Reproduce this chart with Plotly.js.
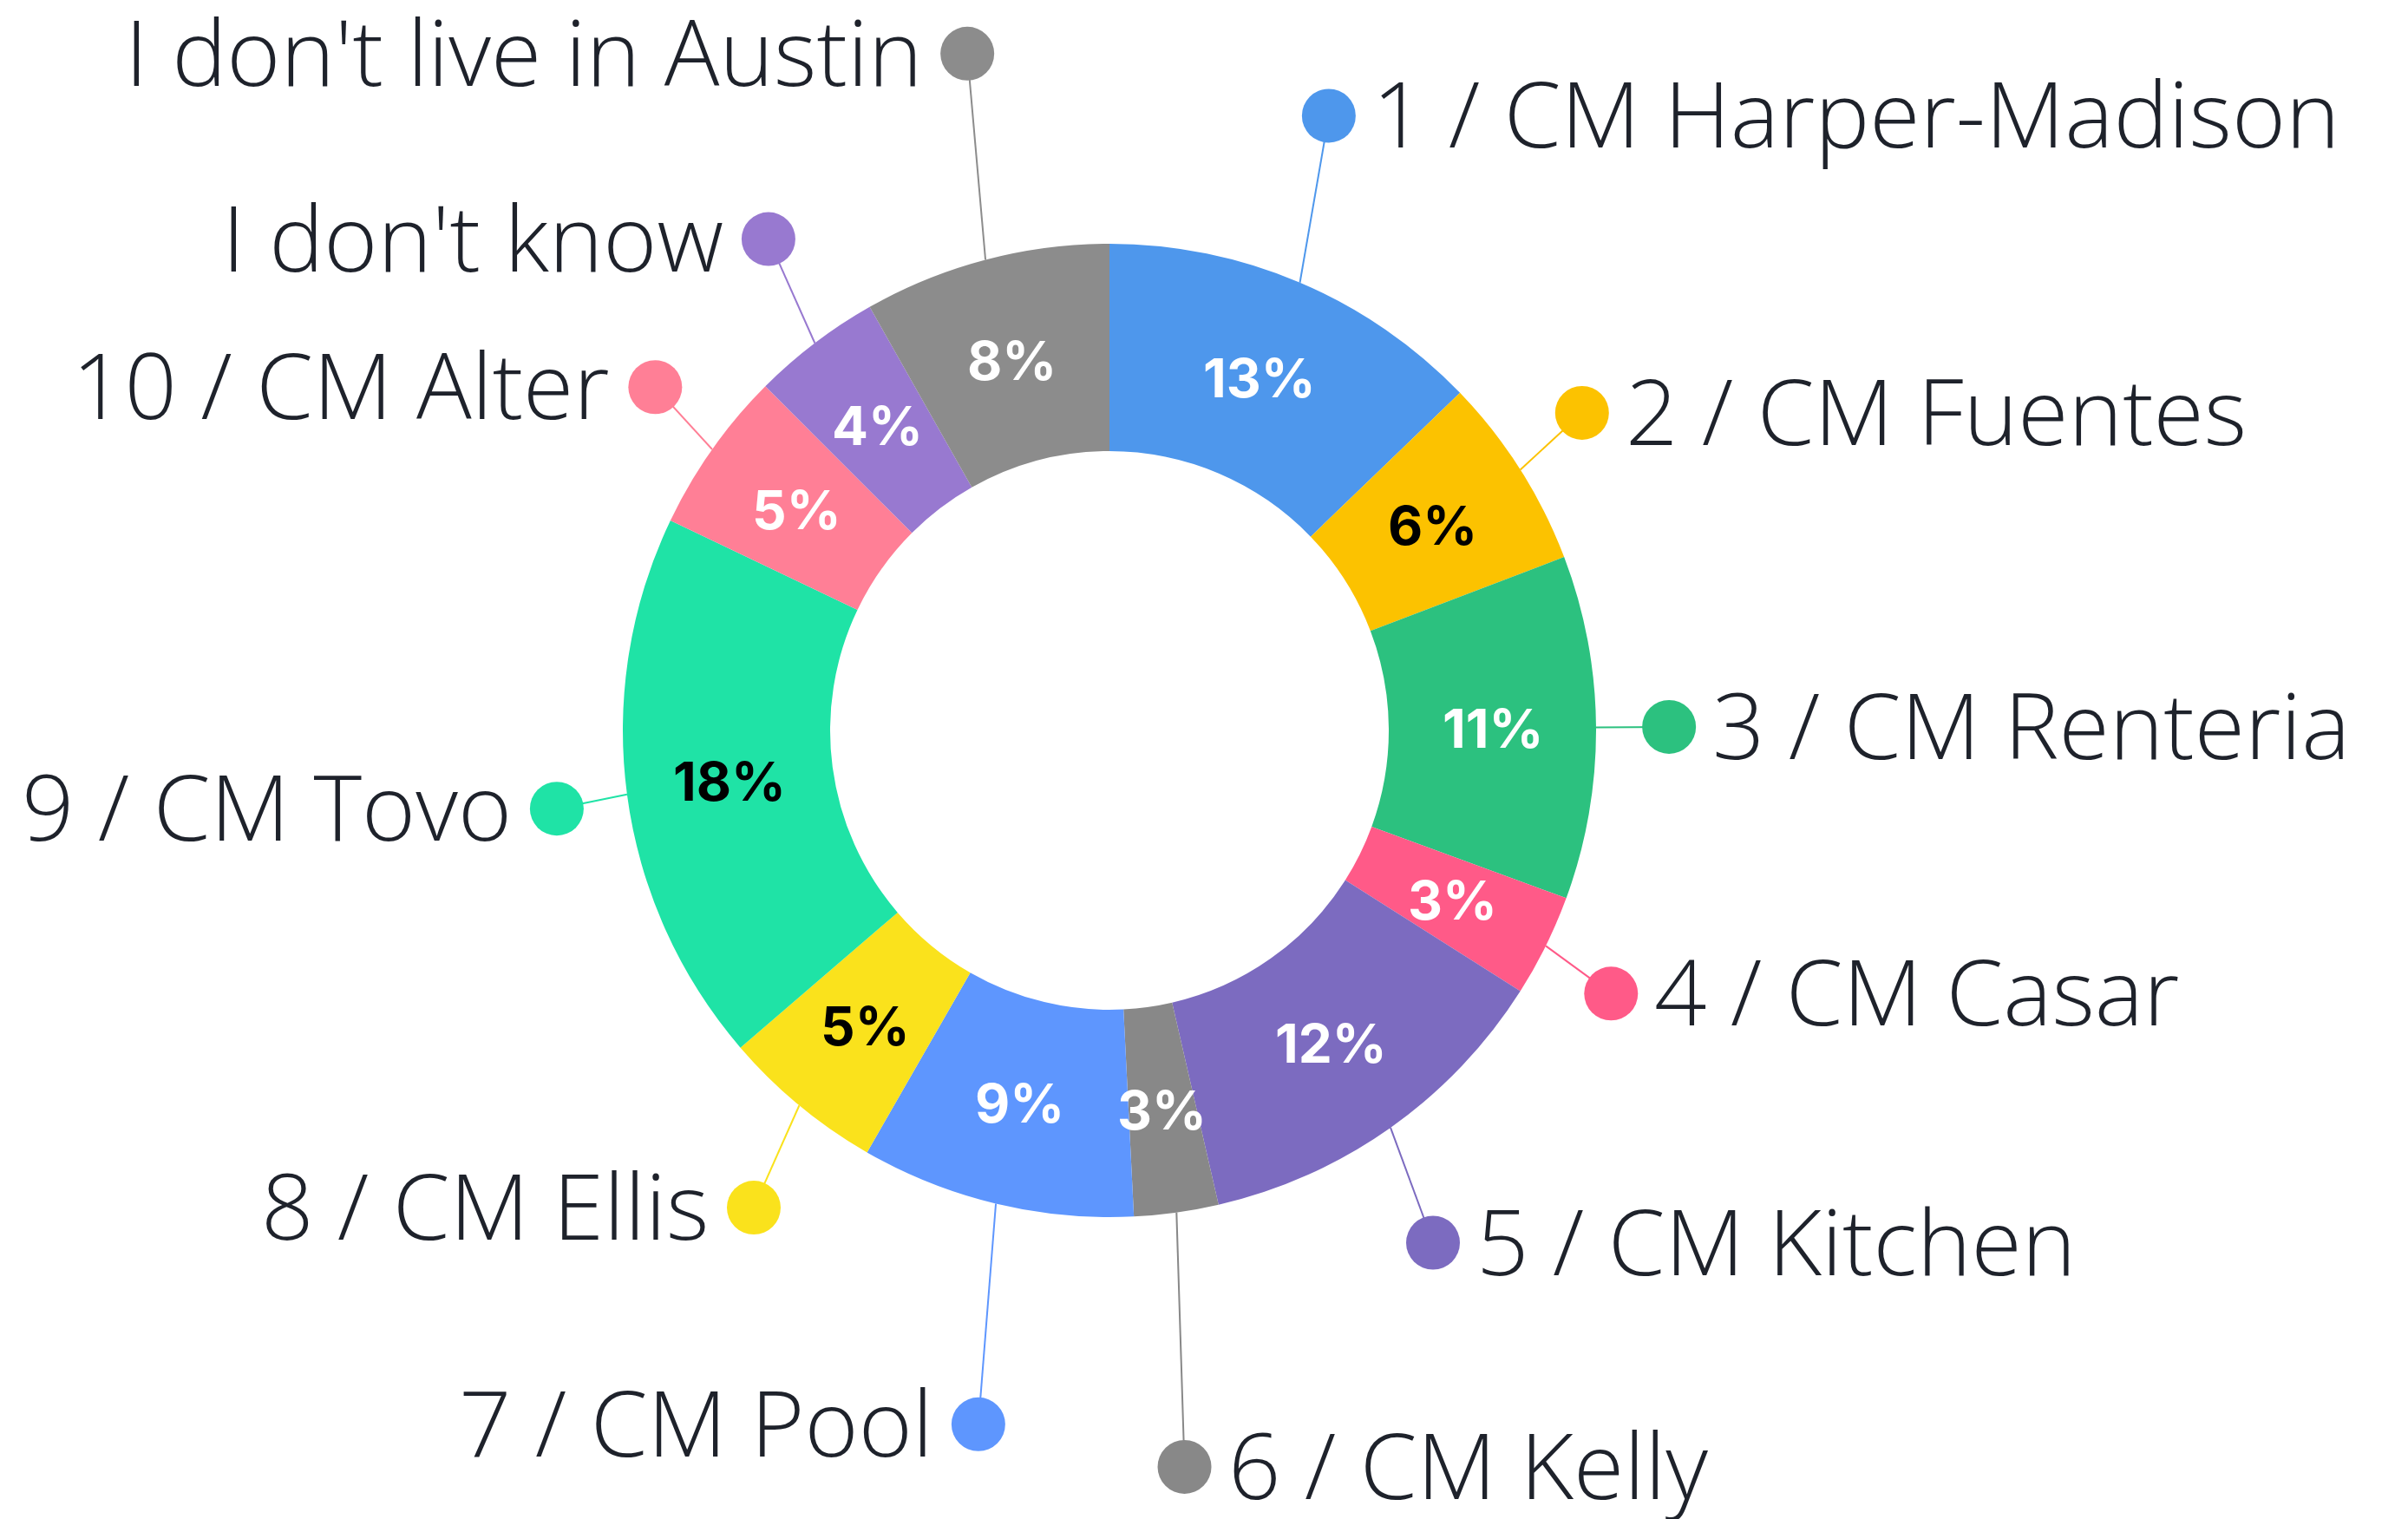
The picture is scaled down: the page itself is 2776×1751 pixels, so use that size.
<!DOCTYPE html>
<html>
<head>
<meta charset="utf-8">
<script src="https://cdn.plot.ly/plotly-3.0.1.min.js"></script>
<style>html,body{margin:0;padding:0;background:#fff;}#chart{width:2776px;height:1751px;}</style>
</head>
<body>
<div id="chart"></div>
<script>
// ---- data ----
const labels = ['1 / CM Harper-Madison', '2 / CM Fuentes', '3 / CM Renteria', '4 / CM Casar',
  '5 / CM Kitchen', '6 / CM Kelly', '7 / CM Pool', '8 / CM Ellis', '9 / CM Tovo',
  '10 / CM Alter', "I don't know", "I don't live in Austin"];
const values = [12.8, 6.4, 11.4, 3.4, 12.4, 2.8, 9.1, 5.4, 18.4, 5.4, 4.3, 8.2];

// ---- styles ----
const colors = ['#4E97EC', '#FCC200', '#2CC17F', '#FF5A88', '#7C6BC0', '#888888',
  '#5E96FE', '#FAE21C', '#1FE3A6', '#FF7F96', '#9879D0', '#8C8C8C'];
const pctTextColors = ['#ffffff', '#000000', '#ffffff', '#ffffff', '#ffffff', '#ffffff',
  '#ffffff', '#000000', '#000000', '#ffffff', '#ffffff', '#ffffff'];
// label leader placement: radius as multiple of outer radius, small angle shift (deg)
const leaderRadius = [1.341, 1.170, 1.150, 1.164, 1.245, 1.521, 1.451, 1.223, 1.147, 1.170, 1.229, 1.421];
const leaderShift  = [-3.4, -1.5, 0, 1.4, 3.0, 2.1, -2.8, -2.9, -0.5, 1.8, 2.5, 2.9];

const W = 2776, H = 1751;
const cx = 1279, cy = 842, R = 561, hole = 0.574;

const total = values.reduce((a, b) => a + b, 0);
const pctText = values.map(v => Math.round(v / total * 100) + '%');

// angles (deg, clockwise from 12 o'clock)
let cum = 0;
const midAngles = values.map(v => { const m = (cum + v / 2) / total * 360; cum += v; return m; });
const pt = (ang, r) => {
  const a = ang * Math.PI / 180;
  return [cx + r * Math.sin(a), cy - r * Math.cos(a)];
};

const traces = [{
  type: 'pie',
  labels: labels,
  values: values,
  sort: false,
  direction: 'clockwise',
  rotation: 0,
  hole: hole,
  textinfo: 'none',
  hoverinfo: 'label+percent',
  marker: {colors: colors, line: {width: 0}},
  showlegend: false,
  domain: {x: [(cx - R) / W, (cx + R) / W], y: [1 - (cy + R) / H, 1 - (cy - R) / H]}
}];

const annotations = [];
const dotX = [], dotY = [];
labels.forEach((lab, i) => {
  const a = midAngles[i];
  const start = pt(a, R);
  const dot = pt(a + leaderShift[i], R * leaderRadius[i]);
  dotX.push(dot[0]); dotY.push(dot[1]);
  traces.push({
    type: 'scatter', mode: 'lines', x: [start[0], dot[0]], y: [start[1], dot[1]],
    line: {color: colors[i], width: 2}, hoverinfo: 'skip', showlegend: false
  });
  const right = a < 180;
  annotations.push({
    xref: 'x', yref: 'y', x: dot[0] + (right ? 48 : -50), y: dot[1],
    xanchor: right ? 'left' : 'right', yanchor: 'middle', showarrow: false,
    text: lab, yshift: 4,
    font: {family: 'Open Sans', size: 106, color: '#1E222B', weight: 300}
  });
  const mid = pt(a, R * (1 + hole) / 2);
  annotations.push({
    xref: 'x', yref: 'y', x: mid[0], y: mid[1], xanchor: 'center', yanchor: 'middle',
    showarrow: false, text: pctText[i],
    font: {family: 'Inter', size: 62, color: pctTextColors[i], weight: 700}
  });
});
traces.push({
  type: 'scatter', mode: 'markers', x: dotX, y: dotY,
  marker: {size: 62, color: colors, line: {width: 0}}, hoverinfo: 'skip', showlegend: false
});

const layout = {
  width: W, height: H,
  margin: {l: 0, r: 0, t: 0, b: 0},
  paper_bgcolor: '#ffffff', plot_bgcolor: 'rgba(0,0,0,0)',
  xaxis: {range: [0, W], visible: false, fixedrange: true},
  yaxis: {range: [H, 0], visible: false, fixedrange: true},
  annotations: annotations,
  showlegend: false
};
Plotly.newPlot('chart', traces, layout, {displayModeBar: false, staticPlot: true});
</script>
</body>
</html>
